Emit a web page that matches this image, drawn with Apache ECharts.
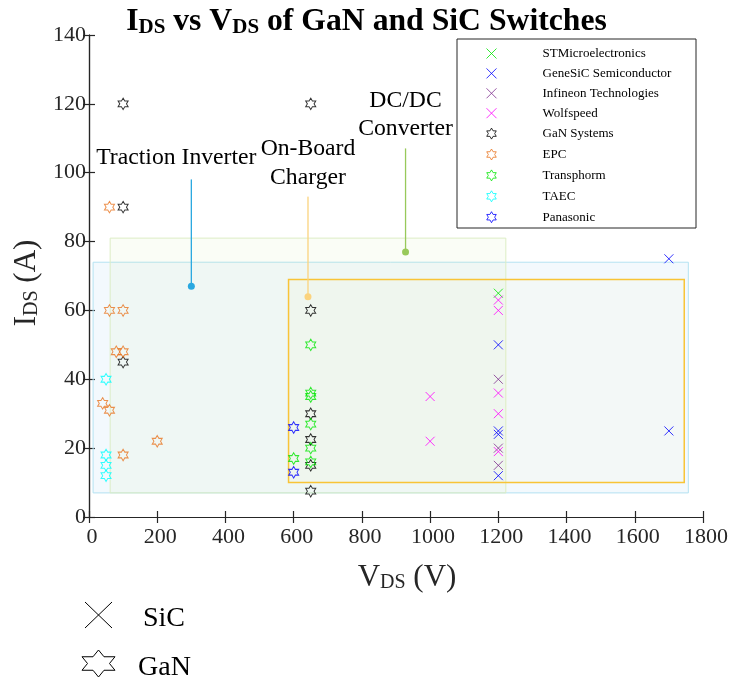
<!DOCTYPE html>
<html>
<head>
<meta charset="utf-8">
<script src="https://cdn.jsdelivr.net/npm/echarts@6/dist/echarts.min.js"></script>
<style>
  html, body { margin: 0; padding: 0; background: #fff; }
  #chart { width: 733px; height: 679px; }
</style>
</head>
<body>
<div id="chart"></div>
<script>
// manufacturers, SiC ones drawn with a cross, GaN ones with a six point star
var stMicro   = [[1200, 65]];
var geneSiC   = [[1700, 75], [1200, 50], [1200, 25], [1200, 24], [1700, 25], [1200, 12]];
var infineon  = [[1200, 40], [1200, 20], [1200, 15]];
var wolfspeed = [[1200, 63], [1200, 60], [1000, 35], [1200, 36], [1200, 30], [1000, 22], [1200, 19]];
var ganSys    = [[100, 120], [650, 120], [100, 90], [650, 60], [100, 45], [650, 30], [650, 22.5], [650, 15], [650, 7.5]];
var epc       = [[60, 90], [60, 60], [100, 60], [80, 48], [100, 48], [40, 33], [60, 31], [200, 22], [100, 18]];
var transphorm= [[650, 50], [650, 36], [650, 35], [650, 27], [650, 20], [600, 17], [650, 16]];
var taec      = [[50, 40], [50, 18], [50, 15], [50, 12]];
var panasonic = [[600, 26], [600, 13]];

// application regions [[vMin, iMin], [vMax, iMax]]
var tractionBox = [[12, 7], [1757, 74]];
var dcdcBox     = [[62, 7], [1222, 81]];
var obcBox      = [[585, 10], [1745, 69]];

// callout lines [top, dot]
var tractionLine = [[300, 98], [300, 67]];
var obcLine      = [[642, 93], [642, 64]];
var dcdcLine     = [[928, 107], [928, 77]];

var xTicks = { min: 0, max: 1800, step: 200 };
var yTicks = { min: 0, max: 140, step: 20 };

var CROSS = 'path://M0,0L10,10M10,0L0,10';
var STAR = 'path://M866,0L1155,500L1732,500L1443,1000L1732,1500L1155,1500L866,2000L577,1500L0,1500L289,1000L0,500L577,500Z';
var SERIF = 'Liberation Serif';
var AX = '#262626';

var makers = [
	{ name: 'STMicroelectronics', data: stMicro, color: '#00e600', sym: CROSS },
	{ name: 'GeneSiC Semiconductor', data: geneSiC, color: '#0000ff', sym: CROSS },
	{ name: 'Infineon Technologies', data: infineon, color: '#7e2f8e', sym: CROSS },
	{ name: 'Wolfspeed', data: wolfspeed, color: '#ff00ff', sym: CROSS },
	{ name: 'GaN Systems', data: ganSys, color: '#000000', sym: STAR },
	{ name: 'EPC', data: epc, color: '#e8741f', sym: STAR },
	{ name: 'Transphorm', data: transphorm, color: '#00e600', sym: STAR },
	{ name: 'TAEC', data: taec, color: '#00ffff', sym: STAR },
	{ name: 'Panasonic', data: panasonic, color: '#0000ff', sym: STAR }
];

// star outline for the bottom key, fitted in a w x h box
function starPoints(x, y, w, h) {
	var u = [[0.5,0],[0.667,0.25],[1,0.25],[0.833,0.5],[1,0.75],[0.667,0.75],[0.5,1],[0.333,0.75],[0,0.75],[0.167,0.5],[0,0.25],[0.333,0.25]];
	return u.map(function (p) { return [x + p[0] * w, y + p[1] * h]; });
}

var series = [];

// shaded regions
series.push({
	type: 'scatter', name: 'areas', data: [], z: 1, silent: true,
	markArea: {
		silent: true,
		data: [
			[{ coord: tractionBox[0], itemStyle: { color: 'rgba(173,216,240,0.15)', borderColor: '#b4e2f2', borderWidth: 1 } }, { coord: tractionBox[1] }],
			[{ coord: dcdcBox[0], itemStyle: { color: 'rgba(200,230,150,0.09)', borderColor: '#dcedc4', borderWidth: 1 } }, { coord: dcdcBox[1] }],
			[{ coord: obcBox[0], itemStyle: { color: 'rgba(255,230,150,0.06)', borderColor: '#f8c437', borderWidth: 1.5 } }, { coord: obcBox[1] }]
		]
	}
});

function callout(line, color, text, lh, dist, off) {
	return {
		type: 'line', name: text, z: 2, silent: true,
		symbol: 'circle', symbolSize: 7,
		lineStyle: { color: color, width: 1.3 },
		itemStyle: { color: color },
		data: [
			{ value: line[0], symbolSize: 0.5,
			  label: { show: true, position: 'top', distance: dist, offset: off, formatter: text,
			           fontFamily: SERIF, fontSize: 23.7, lineHeight: lh, color: '#000' } },
			{ value: line[1] }
		]
	};
}
series.push(callout(tractionLine, '#29a8e0', 'Traction Inverter', 25, 9, [-15, 0]));
series.push(callout(obcLine, '#fbd37e', 'On-Board\nCharger', 29, 4, [0, 0]));
series.push(callout(dcdcLine, '#98c95a', 'DC/DC\nConverter', 28, 6, [0, 0]));

makers.forEach(function (m) {
	series.push({
		type: 'scatter', name: m.name, data: m.data, z: 3,
		symbol: m.sym,
		symbolSize: m.sym === STAR ? [10, 11.5] : [9, 9],
		itemStyle: { color: 'none', borderColor: m.color, borderWidth: 1 },
		emphasis: { disabled: true }
	});
});

var axisCommon = {
	type: 'value',
	axisLine: { show: true, lineStyle: { color: AX, width: 1.2 } },
	axisTick: { show: true, inside: true, length: 6, lineStyle: { color: AX, width: 1.2 } },
	splitLine: { show: false }
};
var plain = function (v) { return String(v); };

var option = {
	animation: false,
	backgroundColor: '#fff',
	title: {
		text: '{b|I}{s|DS}{b| vs V}{s|DS}{b| of GaN and SiC Switches}',
		left: 'center', top: 1,
		textStyle: {
			rich: {
				b: { fontFamily: SERIF, fontWeight: 'bold', fontSize: 31.7, color: '#000' },
				s: { fontFamily: SERIF, fontWeight: 'bold', fontSize: 21, color: '#000', verticalAlign: 'bottom', lineHeight: 19 }
			}
		}
	},
	grid: { left: 89, right: 30, top: 35, bottom: 162 },
	xAxis: [
		Object.assign({}, axisCommon, {
			position: 'bottom', min: xTicks.min, max: xTicks.max, interval: xTicks.step,
			axisLabel: { fontFamily: SERIF, fontSize: 22, color: AX, margin: 9, padding: [0, 0, 0, 6], formatter: plain },
			name: '{a|V}{s|DS}{a| (V)}', nameLocation: 'middle', nameGap: 45,
			nameTextStyle: {
				padding: [0, 0, 0, 22],
				rich: {
					a: { fontFamily: SERIF, fontSize: 31, color: AX },
					s: { fontFamily: SERIF, fontSize: 20, color: AX, verticalAlign: 'bottom', lineHeight: 18 }
				}
			}
		}),
		Object.assign({}, axisCommon, {
			position: 'top', min: xTicks.min, max: xTicks.max, interval: xTicks.step,
			axisLabel: { show: false }
		})
	],
	yAxis: [
		Object.assign({}, axisCommon, {
			position: 'left', min: yTicks.min, max: yTicks.max, interval: yTicks.step,
			axisLabel: { fontFamily: SERIF, fontSize: 22, color: AX, margin: 3, formatter: plain },
			name: '{a|I}{s|DS}{a| (A)}', nameLocation: 'middle', nameGap: 39,
			nameTextStyle: {
				padding: [0, 14, 0, 0],
				rich: {
					a: { fontFamily: SERIF, fontSize: 31, color: AX },
					s: { fontFamily: SERIF, fontSize: 20, color: AX, verticalAlign: 'bottom', lineHeight: 18 }
				}
			}
		}),
		Object.assign({}, axisCommon, {
			position: 'right', min: yTicks.min, max: yTicks.max, interval: yTicks.step,
			axisLabel: { show: false }
		})
	],
	legend: {
		data: makers.map(function (m) {
			return { name: m.name, itemStyle: { color: 'none', borderColor: m.color, borderWidth: 1 } };
		}),
		orient: 'vertical', left: 484, top: 46, padding: 0, z: 10,
		itemWidth: 10, itemHeight: 11, itemGap: 4.9,
		selectedMode: false,
		itemStyle: { borderWidth: 1 },
		textStyle: { fontFamily: SERIF, fontSize: 13, color: '#000', padding: [0, 0, 0, 41] }
	},
	graphic: [
		{ type: 'rect', z: 5, shape: { x: 457, y: 39, width: 239, height: 189 },
		  style: { fill: '#fff', stroke: AX, lineWidth: 1 } },
		{ type: 'line', shape: { x1: 85, y1: 602, x2: 112, y2: 628 }, style: { stroke: '#000', lineWidth: 1 } },
		{ type: 'line', shape: { x1: 112, y1: 602, x2: 85, y2: 628 }, style: { stroke: '#000', lineWidth: 1 } },
		{ type: 'text', x: 143, y: 618.5, style: { text: 'SiC', font: '28px "Liberation Serif"', fill: '#000', verticalAlign: 'middle' } },
		{ type: 'polygon', shape: { points: starPoints(82, 650, 33, 27) }, style: { fill: 'none', stroke: '#000', lineWidth: 1 } },
		{ type: 'text', x: 138, y: 667.5, style: { text: 'GaN', font: '28px "Liberation Serif"', fill: '#000', verticalAlign: 'middle' } }
	],
	series: series
};

var chart = echarts.init(document.getElementById('chart'), null, { renderer: 'canvas' });
chart.setOption(option);
</script>
</body>
</html>
